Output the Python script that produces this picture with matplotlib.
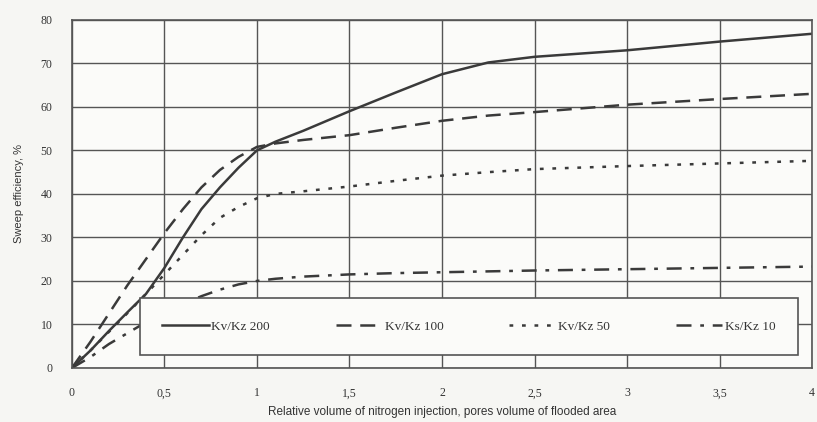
import matplotlib.pyplot as plt
from matplotlib.ticker import FuncFormatter

# data
x = [0, 0.1, 0.2, 0.3, 0.4, 0.5, 0.6, 0.7, 0.8, 0.9, 1.0, 1.1,
     1.25, 1.5, 1.75, 2.0, 2.25, 2.5, 3.0, 3.5, 4.0]
kv200 = [0, 4, 8.5, 12.8, 17, 23, 30, 36.5, 41.5, 46, 50, 52,
         54.5, 59, 63.3, 67.5, 70.2, 71.5, 73, 75, 76.8]
kv100 = [0, 6, 12.5, 19, 25, 31, 36.5, 41.5, 45.5, 48.5, 50.8, 51.6,
         52.4, 53.5, 55.2, 56.8, 58, 58.8, 60.5, 61.8, 63]
kv50 = [0, 4, 8.3, 12.6, 17, 21.5, 26, 30.5, 34.5, 37, 39, 40,
        40.6, 41.7, 43, 44.2, 45, 45.7, 46.4, 47, 47.6]
ks10 = [0, 2.5, 5.5, 8, 10.5, 13, 14.7, 16.5, 18, 19.2, 20, 20.5,
        21, 21.5, 21.8, 22, 22.2, 22.4, 22.7, 23, 23.3]

labels = ["Kv/Kz 200", "Kv/Kz 100", "Kv/Kz 50", "Ks/Kz 10"]
x_ticks = [0, 0.5, 1, 1.5, 2, 2.5, 3, 3.5, 4]
y_ticks = [0, 10, 20, 30, 40, 50, 60, 70, 80]

ink = "#3a3a3a"
sans = ["Liberation Sans Narrow", "Liberation Sans", "DejaVu Sans"]
serif = ["Liberation Serif", "DejaVu Serif"]

fig = plt.figure(figsize=(8.17, 4.22), dpi=100, facecolor="#f6f6f3")
ax = fig.add_axes([0.088, 0.128, 0.906, 0.825], facecolor="#fbfbf9")

ax.plot(x, kv200, color=ink, lw=1.8, ls="-", label=labels[0])
ax.plot(x, kv100, color=ink, lw=1.8, ls=(0, (6, 3.5)), label=labels[1])
ax.plot(x, kv50, color=ink, lw=1.8, ls=(0, (1.5, 3.5)), label=labels[2])
ax.plot(x, ks10, color=ink, lw=1.8, ls=(0, (6, 3.5, 1.5, 3.5)), label=labels[3])

ax.set_xlim(0, 4)
ax.set_ylim(0, 80)
ax.set_xticks(x_ticks)
ax.set_yticks(y_ticks)
ax.xaxis.set_major_formatter(FuncFormatter(lambda v, p: ("%g" % v).replace(".", ",")))
ax.grid(True, color="#555555", lw=1.0)
ax.set_axisbelow(True)
for s in ax.spines.values():
    s.set_color("#555555")
    s.set_linewidth(1.2)
ax.tick_params(length=0, pad=14, labelsize=8.5, colors="#333333")
for t in ax.get_xticklabels() + ax.get_yticklabels():
    t.set_family(serif)

ax.set_xlabel("Relative volume of nitrogen injection, pores volume of flooded area",
              family=sans, fontsize=8.5, color="#333333", labelpad=5)
ax.set_ylabel("Sweep efficiency, %", family=sans, fontsize=8,
              color="#333333", labelpad=12)

leg = ax.legend(loc="lower left", bbox_to_anchor=(0.092, 0.037),
                ncol=4, frameon=True, fancybox=False,
                handlelength=3.5, handletextpad=0.2, columnspacing=5.0,
                borderaxespad=0, borderpad=1.7,
                prop={"family": serif, "size": 9.5})
leg.get_frame().set_edgecolor("#555555")
leg.get_frame().set_linewidth(1.2)
leg.get_frame().set_facecolor("#fbfbf9")
leg.get_frame().set_alpha(1)
for t in leg.get_texts():
    t.set_color("#333333")

fig.savefig("out.png", dpi=100, facecolor=fig.get_facecolor())
